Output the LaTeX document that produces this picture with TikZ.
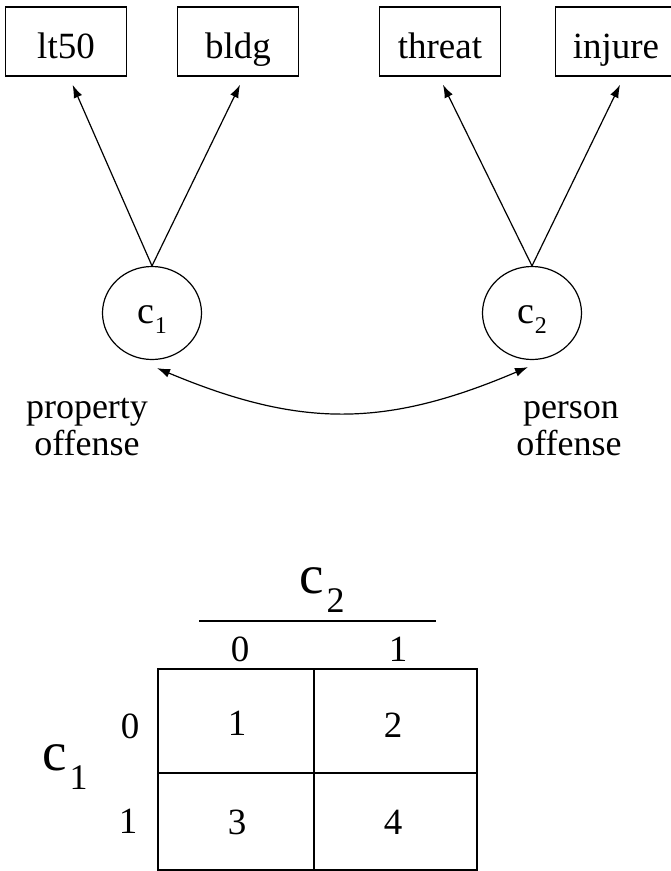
\documentclass[tikz,border=0pt]{standalone}
\usepackage{fontspec}
\setmainfont{Liberation Serif}
\usetikzlibrary{arrows.meta,shapes.geometric,calc}
\begin{document}
\begin{tikzpicture}[x=1pt,y=-1pt,
  box/.style={draw,line width=1.2pt,minimum width=121pt,minimum height=69pt,inner sep=0pt,text height=33pt,text depth=0pt,font=\fontsize{37}{40}\selectfont},
  latent/.style={draw,ellipse,line width=1.2pt,minimum width=99pt,minimum height=93pt,inner sep=0pt,text height=20pt,text depth=0pt,font=\fontsize{38}{40}\selectfont},
  arr/.style={line width=1.2pt,-{Latex[length=13pt,width=9pt]},shorten >=9pt},
  lab/.style={anchor=base,inner sep=0pt,font=\fontsize{36}{40}\selectfont},
  num/.style={anchor=base,inner sep=0pt,font=\fontsize{37}{40}\selectfont}]
\useasboundingbox (0,0) rectangle (671,871);
% observed indicators
\node[box] (lt50) at (66,41.5) {lt50};
\node[box] (bldg) at (238,41.5) {bldg};
\node[box] (threat) at (440,41.5) {threat};
\node[box] (injure) at (616,41.5) {injure};
% latent classes
\node[latent] (c1) at (152,313) {c\kern1pt\raisebox{-10pt}{\fontsize{24}{24}\selectfont 1}};
\node[latent] (c2) at (532,313) {c\kern1pt\raisebox{-10pt}{\fontsize{24}{24}\selectfont 2}};
% loadings
\draw[arr] (c1.north) -- ([xshift=3pt]lt50.south);
\draw[arr] (c1.north) -- ([xshift=6pt]bldg.south);
\draw[arr] (c2.north) -- ([xshift=-1pt]threat.south);
\draw[arr] (c2.north) -- ([xshift=8pt]injure.south);
% association
\coordinate (s1) at ($(c1.south)+(5,8)$);
\coordinate (s2) at ($(c2.south)+(-4,7)$);
\draw[line width=1.2pt,{Latex[length=13pt,width=9pt]}-{Latex[length=13pt,width=9pt]}] (s1) .. controls (300,428) and (385,428) .. (s2);
% labels
\node[lab] (prop1) at (87,418) {property};
\node[lab] (prop2) at (87,455) {offense};
\node[lab] (pers1) at (571,418) {person};
\node[lab] (pers2) at (569,455) {offense};
% cross table
\node[anchor=base west,inner sep=0pt,font=\fontsize{55}{60}\selectfont] (c2t) at (299,593) {c\kern3pt\raisebox{-19pt}{\fontsize{36}{40}\selectfont 2}};
\node[anchor=base west,inner sep=0pt,font=\fontsize{55}{60}\selectfont] (c1t) at (42,770) {c\kern3pt\raisebox{-19pt}{\fontsize{36}{40}\selectfont 1}};
\draw[line width=2pt] (199,621) -- (436,621);
\draw[line width=1.6pt] (158,669) rectangle (477,870);
\draw[line width=1.6pt] (314,669) -- (314,870);
\draw[line width=1.6pt] (158,773) -- (477,773);
\node[num] (col0) at (240,661) {0};
\node[num] (col1) at (398,661) {1};
\node[num] (row0) at (130,738) {0};
\node[num] (row1) at (128,833) {1};
\node[num] (cell1) at (237,735) {1};
\node[num] (cell2) at (393,737) {2};
\node[num] (cell3) at (237,834) {3};
\node[num] (cell4) at (393,834) {4};
\end{tikzpicture}
\end{document}
